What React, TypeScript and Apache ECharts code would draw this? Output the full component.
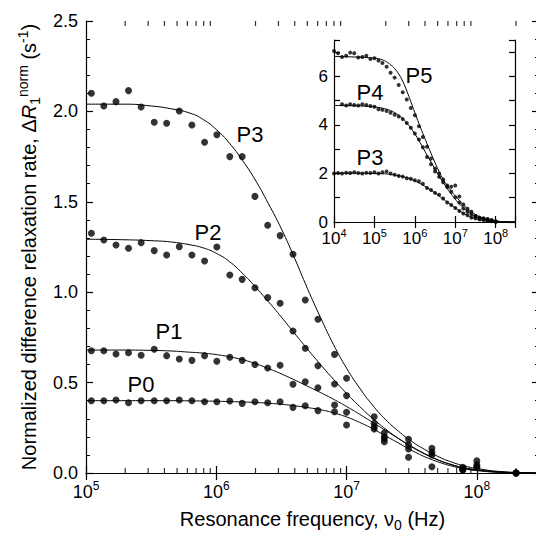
import { useEffect, useRef } from 'react';
import * as echarts from 'echarts';

const FONT = '"Liberation Sans", Arial, Helvetica, sans-serif';

// ---------- Main plot: measured points ----------
const mainFreqs = [
  1.1e5, 1.37e5, 1.7e5, 2.12e5, 2.65e5, 3.34e5, 4.16e5, 5.2e5, 6.5e5, 8.13e5,
  1.01e6, 1.27e6, 1.58e6, 1.98e6, 2.48e6, 3.09e6, 3.88e6, 4.82e6, 6.03e6, 8.09e6,
  1.0e7, 1.63e7, 1.95e7, 2.99e7, 4.52e7, 7.8e7, 1.0e8, 2.0e8,
];
const mainP3 = [
  2.10, 2.03, 2.054, 2.115, 2.024, 1.94, 1.934, 2.002, 1.925, 1.829,
  1.871, 1.75, 1.75, 1.53, 1.37, 1.313, 1.21, 0.957, 0.85, 0.656,
  0.524, 0.311, 0.223, 0.186, 0.137, 0.032, 0.068, 0.0,
];
const mainP2 = [
  1.326, 1.289, 1.261, 1.243, 1.274, 1.23, 1.206, 1.252, 1.206, 1.173,
  1.25, 1.095, 1.071, 1.025, 0.97, 0.939, 0.785, 0.69, 0.593, 0.492,
  0.428, 0.275, 0.2, 0.155, 0.114, 0.025, 0.045, 0.0,
];
const mainP1 = [
  0.676, 0.676, 0.658, 0.665, 0.651, 0.684, 0.649, 0.631, 0.623, 0.649,
  0.618, 0.64, 0.623, 0.6, 0.581, 0.596, 0.491, 0.505, 0.472, 0.376,
  0.336, 0.256, 0.19, 0.133, 0.1, 0.02, 0.035, 0.0,
];
const mainP0 = [
  0.40, 0.40, 0.404, 0.389, 0.40, 0.40, 0.40, 0.404, 0.40, 0.394,
  0.394, 0.398, 0.385, 0.394, 0.389, 0.394, 0.363, 0.372, 0.345, 0.339,
  0.265, 0.243, 0.173, 0.087, 0.035, 0.015, 0.03, 0.0,
];

// ---------- Main plot: fitted curves ----------
const fitFreqs = [
  1e5, 1.995e5, 3.162e5, 4.467e5, 6.31e5, 7.943e5, 1e6, 1.259e6, 1.585e6, 1.995e6,
  2.512e6, 3.162e6, 3.981e6, 5.012e6, 6.31e6, 7.943e6, 1e7, 1.259e7, 1.585e7, 1.995e7,
  2.512e7, 3.162e7, 3.981e7, 5.012e7, 6.31e7, 7.943e7, 1e8, 1.585e8, 3e8,
];
const fitP3 = [
  2.04, 2.04, 2.03, 2.015, 1.99, 1.955, 1.90, 1.825, 1.73, 1.62,
  1.49, 1.35, 1.19, 1.02, 0.86, 0.71, 0.58, 0.47, 0.375, 0.295,
  0.23, 0.175, 0.13, 0.092, 0.062, 0.04, 0.025, 0.007, 0,
];
const fitP2 = [
  1.293, 1.29, 1.285, 1.278, 1.262, 1.245, 1.215, 1.17, 1.105, 1.03,
  0.948, 0.862, 0.773, 0.685, 0.60, 0.518, 0.44, 0.368, 0.302, 0.243,
  0.19, 0.144, 0.105, 0.073, 0.048, 0.03, 0.018, 0.005, 0,
];
const fitP1 = [
  0.68, 0.68, 0.678, 0.675, 0.668, 0.663, 0.655, 0.643, 0.627, 0.605,
  0.578, 0.548, 0.515, 0.48, 0.445, 0.408, 0.368, 0.325, 0.28, 0.235,
  0.19, 0.147, 0.107, 0.073, 0.047, 0.027, 0.016, 0.004, 0,
];
const fitP0 = [
  0.40, 0.40, 0.40, 0.40, 0.399, 0.398, 0.397, 0.395, 0.393, 0.39,
  0.386, 0.38, 0.372, 0.362, 0.35, 0.333, 0.31, 0.28, 0.245, 0.205,
  0.165, 0.125, 0.09, 0.062, 0.04, 0.024, 0.013, 0.003, 0,
];

// ---------- Inset: measured points ----------
const insetFreqs = [
  1e4, 1.26e4, 1.58e4, 2e4, 2.51e4, 3.16e4, 3.98e4, 5.01e4, 6.31e4, 7.94e4,
  1e5, 1.26e5, 1.58e5, 2e5, 2.51e5, 3.16e5, 3.98e5, 5.01e5, 6.31e5, 7.94e5,
  1e6, 1.26e6, 1.58e6, 2e6, 2.51e6, 3.16e6, 3.98e6, 5.01e6, 6.31e6, 7.94e6,
  1e7, 1.26e7, 1.58e7, 2e7, 2.51e7, 3.16e7, 3.98e7, 5.01e7, 6.31e7, 7.94e7,
  1e8,
];
const insetP5 = [
  7.05, 6.95, 6.8, 6.85, 6.98, 6.95, 6.78, 6.8, 6.85, 6.72,
  6.75, 6.65, 6.55, 6.4, 6.15, 5.95, 5.65, 5.35, 5.05, 4.7,
  4.4, 3.95, 3.5, 3.1, 2.62, 2.2, 2.0, 1.75, 1.5, 1.45,
  1.5, 1.05, 0.72, 0.55, 0.42, 0.25, 0.18, 0.14, 0.1, 0.06,
  0.02,
];
const insetP4 = [
  null, null, 4.85, 4.8, 4.85, 4.82, 4.8, 4.85, 4.82, 4.78,
  4.75, 4.65, 4.62, 4.57, 4.5, 4.42, 4.35, 4.24, 4.08, 3.88,
  3.65, 3.4, 3.08, 2.68, 2.38, 2.08, 1.86, 1.64, 1.44, 1.25,
  1.02, 0.8, 0.56, 0.42, 0.32, 0.24, 0.17, 0.14, 0.12, 0.08,
  0.03,
];
const insetP3 = [
  2.0, 2.02, 2.0, 2.03, 2.02, 2.05, 2.02, 2.0, 2.03, 2.02,
  2.05, 2.0, 2.05, 2.08, 2.0, 1.95, 1.9, 1.87, 1.8, 1.78,
  1.72, 1.68, 1.58, 1.4, 1.32, 1.2, 1.12, 0.97, 0.8, 0.7,
  0.58, 0.45, 0.35, 0.28, 0.18, 0.15, 0.1, 0.08, 0.05, 0.03,
  0.0,
];

// ---------- Inset: fitted curves ----------
const insetFitFreqs = [
  1e4, 3.162e4, 1e5, 1.585e5, 1.995e5, 2.512e5, 3.162e5, 3.981e5, 5.012e5, 6.31e5,
  7.943e5, 1e6, 1.259e6, 1.585e6, 1.995e6, 2.512e6, 3.162e6, 3.981e6, 5.012e6, 6.31e6,
  7.943e6, 1e7, 1.259e7, 1.585e7, 1.995e7, 2.512e7, 3.162e7, 3.981e7, 5.012e7, 6.31e7,
  1e8, 1.585e8, 3e8,
];
const insetFitP5 = [
  6.82, 6.8, 6.75, 6.68, 6.6, 6.48, 6.32, 6.1, 5.8, 5.4,
  4.96, 4.5, 4.06, 3.64, 3.23, 2.83, 2.44, 2.08, 1.76, 1.5,
  1.28, 1.08, 0.89, 0.71, 0.55, 0.42, 0.31, 0.22, 0.15, 0.1,
  0.045, 0.012, 0,
];
const insetFitP4 = [
  4.8, 4.79, 4.74, 4.69, 4.65, 4.59, 4.51, 4.4, 4.26, 4.08,
  3.87, 3.63, 3.36, 3.06, 2.76, 2.47, 2.18, 1.9, 1.63, 1.38,
  1.15, 0.94, 0.75, 0.58, 0.44, 0.32, 0.23, 0.16, 0.105, 0.065,
  0.027, 0.007, 0,
];
const insetFitP3 = [
  2.01, 2.01, 2.0, 1.99, 1.98, 1.96, 1.935, 1.905, 1.87, 1.82,
  1.76, 1.69, 1.61, 1.52, 1.42, 1.31, 1.195, 1.075, 0.95, 0.825,
  0.7, 0.58, 0.465, 0.36, 0.27, 0.195, 0.135, 0.09, 0.058, 0.036,
  0.015, 0.005, 0,
];

// ---------- Axes ----------
const MAIN_X_MIN = 1e5;
const MAIN_X_MAX = 3e8;
const MAIN_Y_MIN = 0;
const MAIN_Y_MAX = 2.5;
const MAIN_Y_STEP = 0.5;
const INSET_X_MIN = 1e4;
const INSET_X_MAX = 3e8;
const INSET_Y_MIN = 0;
const INSET_Y_MAX = 7.5;
const INSET_Y_STEP = 1;
const insetYLabels = [0, 2, 4, 6];
const xMinorTicks = [
  2e5, 3e5, 4e5, 5e5, 6e5, 7e5, 8e5, 9e5,
  2e6, 3e6, 4e6, 5e6, 6e6, 7e6, 8e6, 9e6,
  2e7, 3e7, 4e7, 5e7, 6e7, 7e7, 8e7, 9e7,
  2e8,
];

const pairs = (xs: number[], ys: (number | null)[]) =>
  xs.map((x, i) => [x, ys[i]]).filter((p) => p[1] !== null && p[1] !== undefined);

function decadeLabel(v: number) {
  const l = Math.log10(v);
  const e = Math.round(l);
  if (Math.abs(l - e) > 1e-6) return '';
  return `{b|10}{s|${e}}`;
}

const BLACK = '#000';

export default function App() {
  const ref = useRef<HTMLDivElement>(null);
  useEffect(() => {
    document.body.style.margin = '0';
    const chart = echarts.init(ref.current!, undefined, { renderer: 'svg' });

    const tickRich = (big: number, small: number) => ({
      b: { fontSize: big, fontFamily: FONT, color: BLACK, lineHeight: big + 6 },
      s: { fontSize: small, fontFamily: FONT, color: BLACK, verticalAlign: 'top', lineHeight: small + 2 },
    });

    const lineSeries = (name: string, xs: number[], ys: number[], xi: number, yi: number) => ({
      name,
      type: 'line',
      xAxisIndex: xi,
      yAxisIndex: yi,
      data: pairs(xs, ys),
      showSymbol: false,
      smooth: 0.5,
      silent: true,
      lineStyle: { color: BLACK, width: 1 },
      z: 2,
    });
    const dotSeries = (name: string, xs: number[], ys: (number | null)[], xi: number, yi: number, size: number) => ({
      name,
      type: 'scatter',
      xAxisIndex: xi,
      yAxisIndex: yi,
      data: pairs(xs, ys),
      symbol: 'circle',
      symbolSize: size,
      silent: true,
      itemStyle: { color: BLACK },
      z: 3,
    });
    const minorTickSeries = (name: string, yVal: number, dir: number) => ({
      name,
      type: 'scatter',
      xAxisIndex: 0,
      yAxisIndex: 0,
      data: xMinorTicks.map((v) => [v, yVal]),
      symbol: 'rect',
      symbolSize: [1.2, 5],
      symbolOffset: [0, dir * 2.5],
      clip: false,
      silent: true,
      itemStyle: { color: BLACK },
      z: 4,
    });

    const axisLine = { show: true, lineStyle: { color: BLACK, width: 1.2 } };

    const option: any = {
      animation: false,
      backgroundColor: '#fff',
      grid: [
        { left: 86, top: 21, right: -3, bottom: 64, outerBoundsMode: 'none' },
        { left: 334, top: 40, width: 181, height: 182, outerBoundsMode: 'none' },
      ],
      xAxis: [
        {
          type: 'log', logBase: 10, gridIndex: 0, position: 'bottom',
          min: MAIN_X_MIN, max: MAIN_X_MAX,
          axisLine, splitLine: { show: false },
          axisTick: { show: true, inside: true, length: 7, lineStyle: { color: BLACK, width: 1.2 } },
          axisLabel: { formatter: decadeLabel, margin: 7, rich: tickRich(18, 12) },
          name: 'Resonance frequency, ν{sub|0} (Hz)',
          nameLocation: 'middle',
          nameGap: 31,
          nameTextStyle: {
            fontSize: 20, fontFamily: FONT, color: BLACK, lineHeight: 26,
            rich: { sub: { fontSize: 14, fontFamily: FONT, color: BLACK, verticalAlign: 'bottom', lineHeight: 14 } },
          },
        },
        {
          type: 'log', logBase: 10, gridIndex: 0, position: 'top',
          min: MAIN_X_MIN, max: MAIN_X_MAX,
          axisLine, splitLine: { show: false },
          axisTick: { show: true, inside: true, length: 7, lineStyle: { color: BLACK, width: 1.2 } },
          axisLabel: { show: false },
        },
        {
          type: 'log', logBase: 10, gridIndex: 1, position: 'bottom',
          min: INSET_X_MIN, max: INSET_X_MAX,
          axisLine, splitLine: { show: false },
          axisTick: { show: true, inside: true, length: 6, lineStyle: { color: BLACK, width: 1.2 } },
          axisLabel: { formatter: decadeLabel, margin: 5, rich: tickRich(17, 11) },
        },
        {
          type: 'log', logBase: 10, gridIndex: 1, position: 'top',
          min: INSET_X_MIN, max: INSET_X_MAX,
          axisLine, splitLine: { show: false },
          axisTick: { show: true, inside: true, length: 6, lineStyle: { color: BLACK, width: 1.2 } },
          axisLabel: { show: false },
        },
      ],
      yAxis: [
        {
          type: 'value', gridIndex: 0, position: 'left',
          min: MAIN_Y_MIN, max: MAIN_Y_MAX, interval: MAIN_Y_STEP,
          axisLine, splitLine: { show: false },
          axisTick: { show: true, inside: true, length: 7, lineStyle: { color: BLACK, width: 1.2 } },
          minorTick: { show: true, splitNumber: 5, length: 4, lineStyle: { color: BLACK, width: 1 } },
          axisLabel: {
            formatter: (v: number) => v.toFixed(1), margin: 8,
            fontSize: 18, fontFamily: FONT, color: BLACK,
          },
          name: 'Normalized difference relaxation rate, Δ{it|R}{sub|1}{sup|norm} (s{sup|-1})',
          nameLocation: 'middle',
          nameGap: 38,
          nameTextStyle: {
            fontSize: 20, fontFamily: FONT, color: BLACK, lineHeight: 26,
            rich: {
              it: { fontSize: 20, fontFamily: FONT, fontStyle: 'italic', color: BLACK, lineHeight: 26 },
              sub: { fontSize: 14, fontFamily: FONT, color: BLACK, verticalAlign: 'bottom', lineHeight: 14 },
              sup: { fontSize: 14, fontFamily: FONT, color: BLACK, verticalAlign: 'top', lineHeight: 14 },
            },
          },
        },
        {
          type: 'value', gridIndex: 0, position: 'right',
          min: MAIN_Y_MIN, max: MAIN_Y_MAX, interval: MAIN_Y_STEP,
          axisLine, splitLine: { show: false },
          axisTick: { show: true, inside: true, length: 7, lineStyle: { color: BLACK, width: 1.2 } },
          minorTick: { show: true, splitNumber: 5, length: 4, lineStyle: { color: BLACK, width: 1 } },
          axisLabel: { show: false },
        },
        {
          type: 'value', gridIndex: 1, position: 'left',
          min: INSET_Y_MIN, max: INSET_Y_MAX, interval: INSET_Y_STEP,
          axisLine, splitLine: { show: false },
          axisTick: { show: true, inside: true, length: 6, lineStyle: { color: BLACK, width: 1.2 } },
          axisLabel: {
            formatter: (v: number) => (insetYLabels.includes(v) ? String(v) : ''),
            margin: 6, fontSize: 17, fontFamily: FONT, color: BLACK,
          },
        },
        {
          type: 'value', gridIndex: 1, position: 'right',
          min: INSET_Y_MIN, max: INSET_Y_MAX, interval: INSET_Y_STEP,
          axisLine, splitLine: { show: false },
          axisTick: { show: true, inside: true, length: 6, lineStyle: { color: BLACK, width: 1.2 } },
          axisLabel: { show: false },
        },
      ],
      series: [
        lineSeries('P3 fit', fitFreqs, fitP3, 0, 0),
        lineSeries('P2 fit', fitFreqs, fitP2, 0, 0),
        lineSeries('P1 fit', fitFreqs, fitP1, 0, 0),
        lineSeries('P0 fit', fitFreqs, fitP0, 0, 0),
        dotSeries('P3', mainFreqs, mainP3, 0, 0, 7),
        dotSeries('P2', mainFreqs, mainP2, 0, 0, 7),
        dotSeries('P1', mainFreqs, mainP1, 0, 0, 7),
        dotSeries('P0', mainFreqs, mainP0, 0, 0, 7),
        lineSeries('inset P5 fit', insetFitFreqs, insetFitP5, 2, 2),
        lineSeries('inset P4 fit', insetFitFreqs, insetFitP4, 2, 2),
        lineSeries('inset P3 fit', insetFitFreqs, insetFitP3, 2, 2),
        dotSeries('inset P5', insetFreqs, insetP5, 2, 2, 4),
        dotSeries('inset P4', insetFreqs, insetP4, 2, 2, 4),
        dotSeries('inset P3', insetFreqs, insetP3, 2, 2, 4),
        minorTickSeries('minor ticks bottom', MAIN_Y_MIN, -1),
        minorTickSeries('minor ticks top', MAIN_Y_MAX, 1),
      ],
      graphic: [
        ['P3', 250, 134],
        ['P2', 208, 232],
        ['P1', 169, 331],
        ['P0', 141, 384],
        ['P5', 419, 75],
        ['P4', 370, 92],
        ['P3', 370, 157],
      ].map(([t, x, y]) => ({
        type: 'text',
        x: x as number,
        y: y as number,
        silent: true,
        z: 10,
        style: {
          text: t as string,
          fontSize: 22,
          fontFamily: FONT,
          fill: BLACK,
          align: 'center',
          verticalAlign: 'middle',
        },
      })),
    };

    chart.setOption(option);
    return () => chart.dispose();
  }, []);

  return <div ref={ref} style={{ position: 'absolute', left: 0, top: 0, width: 536, height: 537 }} />;
}
